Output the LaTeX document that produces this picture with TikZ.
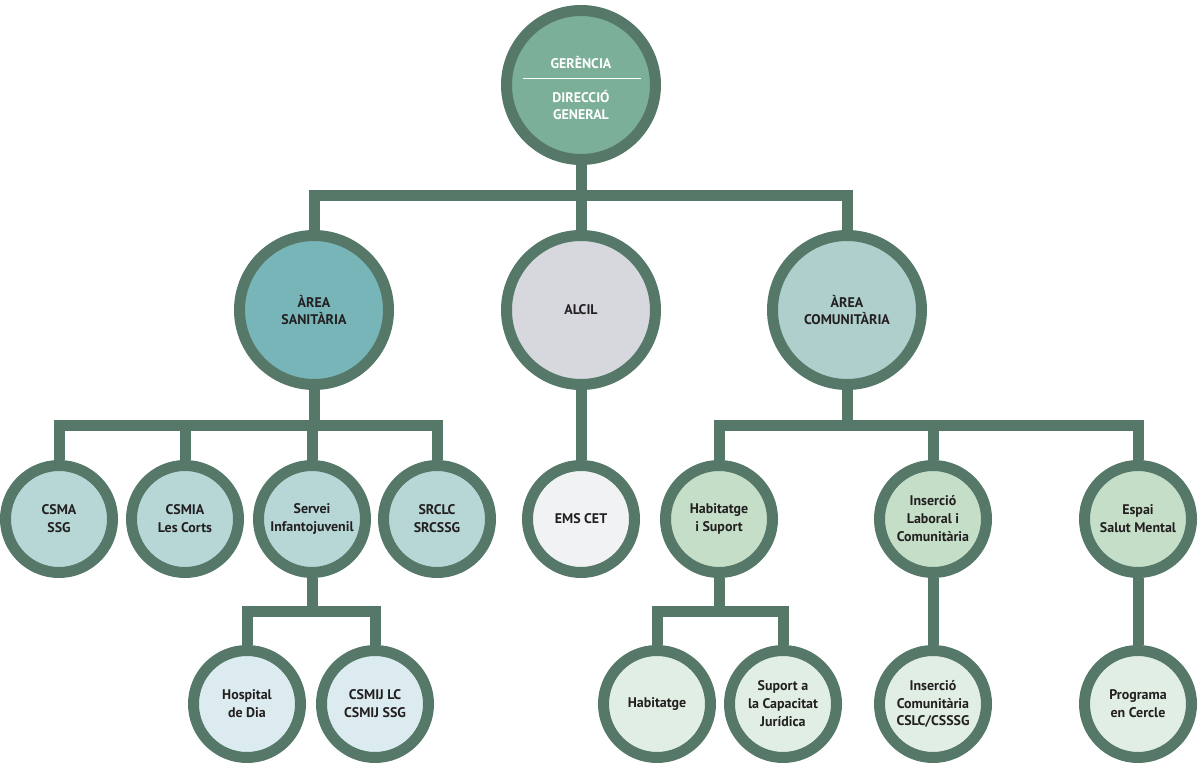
\documentclass[tikz,border=0pt]{standalone}
\usepackage{fontspec}
\setmainfont{PT Sans}
\usetikzlibrary{backgrounds}
\definecolor{ln}{HTML}{557868}
\definecolor{txt}{HTML}{231F20}
\definecolor{ftop}{HTML}{7BAF97}
\definecolor{fsan}{HTML}{78B5B8}
\definecolor{falc}{HTML}{D6D8DD}
\definecolor{fcom}{HTML}{AECFCB}
\definecolor{fsl}{HTML}{B7D7D7}
\definecolor{fsll}{HTML}{DCEBEF}
\definecolor{fems}{HTML}{F1F2F4}
\definecolor{fcr}{HTML}{C4DEC8}
\definecolor{fcrr}{HTML}{E1EEE4}
\begin{document}
\begin{tikzpicture}[x=1bp,y=-1bp,
  ring/.style={circle,draw=ln,line width=11bp,inner sep=0pt,align=center,
    font=\bfseries\fontsize{14}{18}\selectfont,text=txt},
  big/.style={ring,minimum size=149bp},
  small/.style={ring,minimum size=107bp},
  lbl/.style={inner sep=0pt,align=center,font=\bfseries\fontsize{14}{18}\selectfont,text=white},
  conn/.style={draw=ln,line width=11bp,line join=miter}]
\useasboundingbox (0,0) rectangle (1200,763);
% bar levels
\coordinate (b1) at (0,195);
\coordinate (b2) at (0,425);
\coordinate (b3) at (0,611);
% top
\node[big,fill=ftop] (g) at (581,85) {};
\node[lbl] (g1) at (581,63) {GERÈNCIA};
\node[lbl] (g2) at (581,105) {DIRECCIÓ\\GENERAL};
\draw[white,line width=0.7bp] (523,78) -- (641,78);
% level 2
\node[big,fill=fsan] (san) at (314,310) {ÀREA\\SANITÀRIA};
\node[big,fill=falc] (alc) at (581,310) {ALCIL};
\node[big,fill=fcom] (com) at (847,310) {ÀREA\\COMUNITÀRIA};
% level 3
\node[small,fill=fsl] (csma) at (59,519) {CSMA\\SSG};
\node[small,fill=fsl] (csmia) at (185,519) {CSMIA\\Les Corts};
\node[small,fill=fsl] (serv) at (312,519) {Servei\\Infantojuvenil};
\node[small,fill=fsl] (srclc) at (437,519) {SRCLC\\SRCSSG};
\node[small,fill=fems] (ems) at (581,519) {EMS CET};
\node[small,fill=fcr] (hab) at (719,519) {Habitatge\\i Suport};
\node[small,fill=fcr] (ins) at (933,519) {Inserció\\Laboral i\\Comunitària};
\node[small,fill=fcr] (esp) at (1138,519) {Espai\\Salut Mental};
% level 4
\node[small,fill=fsll] (hosp) at (247,704) {Hospital\\de Dia};
\node[small,fill=fsll] (csmij) at (375,704) {CSMIJ LC\\CSMIJ SSG};
\node[small,fill=fcrr] (habt) at (657,704) {Habitatge};
\node[small,fill=fcrr] (sup) at (783,704) {Suport a\\la Capacitat\\Jurídica};
\node[small,fill=fcrr] (insc) at (933,704) {Inserció\\Comunitària\\CSLC/CSSSG};
\node[small,fill=fcrr] (prog) at (1138,704) {Programa\\en Cercle};
\begin{scope}[on background layer]
\draw[conn] (g) -- (alc);
\draw[conn] (san) -- (san|-b1) -- (com|-b1) -- (com);
\draw[conn] (san) -- (san|-b2);
\draw[conn] (csma) -- (csma|-b2) -- (srclc|-b2) -- (srclc);
\draw[conn] (csmia) -- (csmia|-b2);
\draw[conn] (serv) -- (serv|-b2);
\draw[conn] (alc) -- (ems);
\draw[conn] (com) -- (com|-b2);
\draw[conn] (hab) -- (hab|-b2) -- (esp|-b2) -- (esp);
\draw[conn] (ins) -- (ins|-b2);
\draw[conn] (serv) -- (serv|-b3);
\draw[conn] (hosp) -- (hosp|-b3) -- (csmij|-b3) -- (csmij);
\draw[conn] (hab) -- (hab|-b3);
\draw[conn] (habt) -- (habt|-b3) -- (sup|-b3) -- (sup);
\draw[conn] (ins) -- (insc);
\draw[conn] (esp) -- (prog);
\end{scope}
\end{tikzpicture}
\end{document}
